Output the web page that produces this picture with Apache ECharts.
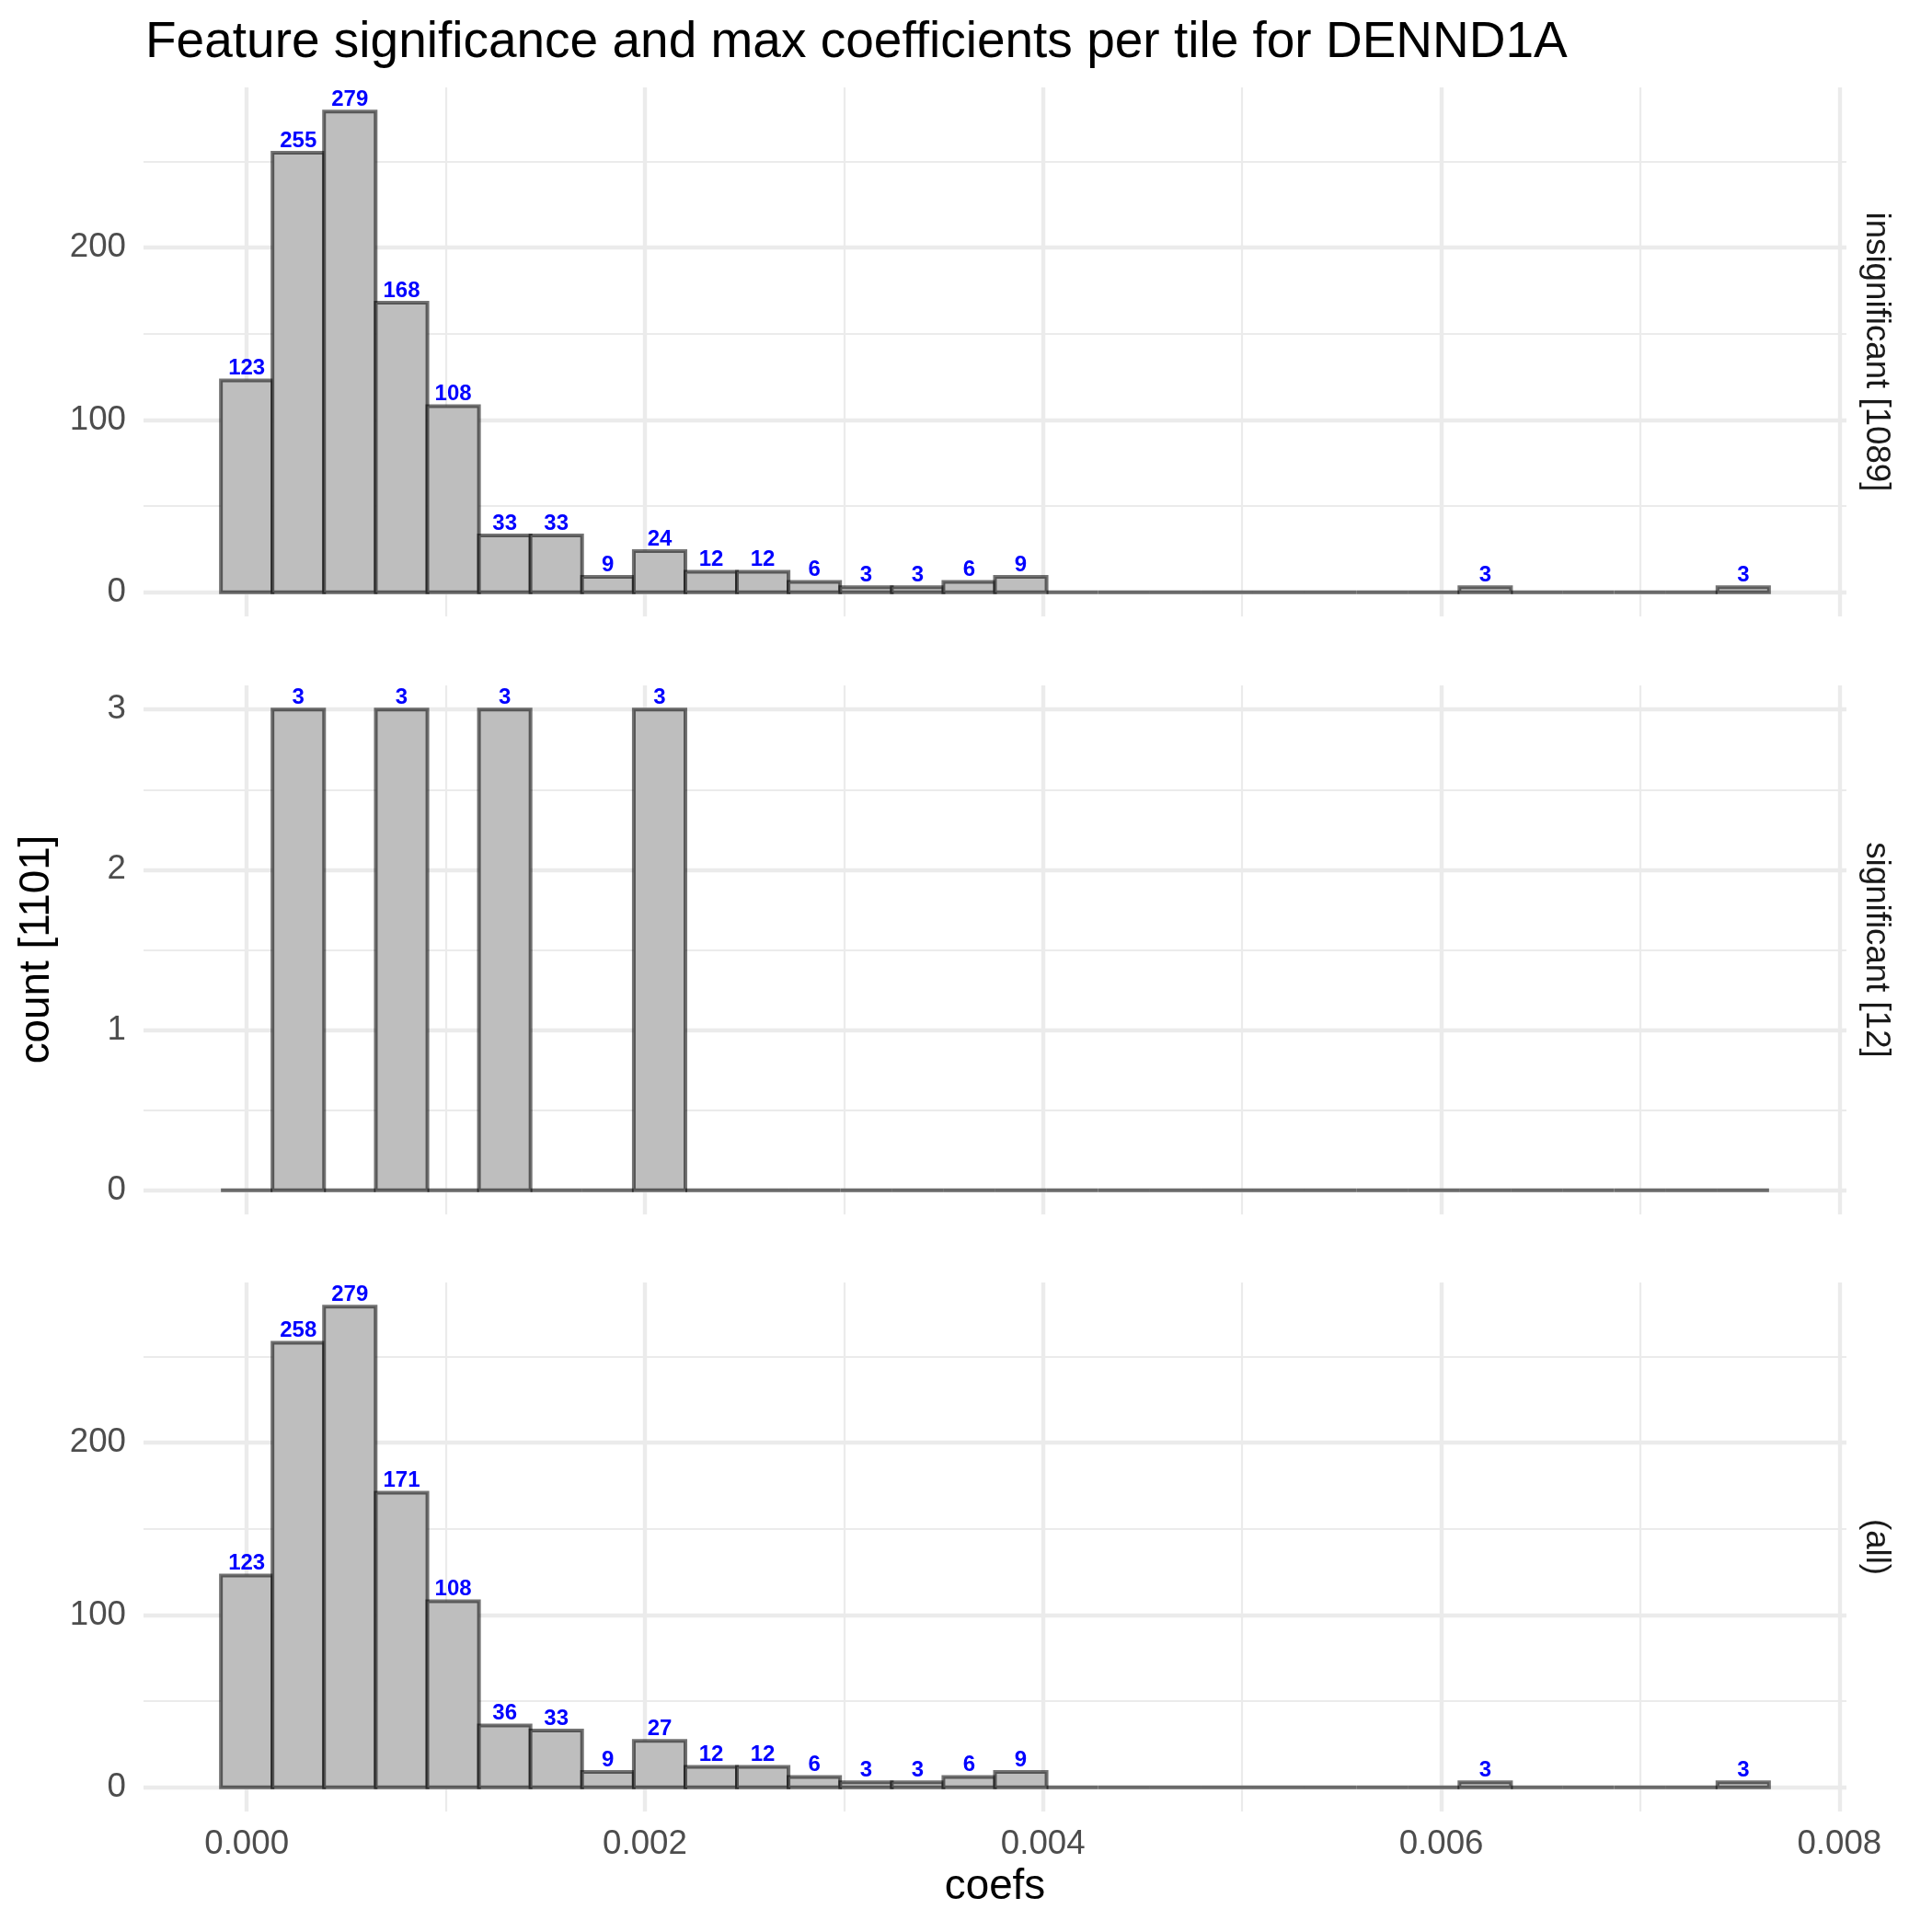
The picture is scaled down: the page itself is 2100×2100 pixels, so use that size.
<!DOCTYPE html>
<html>
<head>
<meta charset="utf-8">
<script src="https://cdn.jsdelivr.net/npm/echarts@6/dist/echarts.min.js"></script>
<style>
html,body{margin:0;padding:0;background:#fff;}
#chart{width:2100px;height:2100px;}
</style>
</head>
<body>
<div id="chart"></div>
<script>
// ---- data ----
const binCenters = [0.000000, 0.000259, 0.000518, 0.000778, 0.001037, 0.001296, 0.001555, 0.001814, 0.002074, 0.002333,
                    0.002592, 0.002851, 0.003111, 0.003370, 0.003629, 0.003888, 0.004147, 0.004407, 0.004666, 0.004925,
                    0.005184, 0.005443, 0.005703, 0.005962, 0.006221, 0.006480, 0.006739, 0.006999, 0.007258, 0.007517];
const binWidth = 0.0002592;
const insignificantCounts = [123, 255, 279, 168, 108, 33, 33, 9, 24, 12, 12, 6, 3, 3, 6, 9, 0, 0, 0, 0, 0, 0, 0, 0, 3, 0, 0, 0, 0, 3];
const significantCounts   = [0, 3, 0, 3, 0, 3, 0, 0, 3, 0, 0, 0, 0, 0, 0, 0, 0, 0, 0, 0, 0, 0, 0, 0, 0, 0, 0, 0, 0, 0];
const allCounts           = [123, 258, 279, 171, 108, 36, 33, 9, 27, 12, 12, 6, 3, 3, 6, 9, 0, 0, 0, 0, 0, 0, 0, 0, 3, 0, 0, 0, 0, 3];
const panelNames = ['insignificant [1089]', 'significant [12]', '(all)'];
const xMajorTicks = [0, 0.002, 0.004, 0.006, 0.008];
const xMinorTicks = [0.001, 0.003, 0.005, 0.007];
const yMajorTicksBig = [0, 100, 200];
const yMinorTicksBig = [50, 150, 250];
const yMajorTicksSmall = [0, 1, 2, 3];
const yMinorTicksSmall = [0.5, 1.5, 2.5];
const titleText = 'Feature significance and max coefficients per tile for DENND1A';
const xTitle = 'coefs';
const yTitle = 'count [1101]';

// ---- layout ----
const FONT = '"Liberation Sans", Arial, Helvetica, sans-serif';
const gridLeft = 156, gridWidth = 1851, panelH = 575;
const tops = [95, 745, 1394];
const xMin = -0.0005184, xMax = 0.0080354;
const yRanges = [[-13.95, 292.95], [-0.15, 3.15], [-13.95, 292.95]];
const countsList = [insignificantCounts, significantCounts, allCounts];
const majorY = [yMajorTicksBig, yMajorTicksSmall, yMajorTicksBig];
const minorY = [yMinorTicksBig, yMinorTicksSmall, yMinorTicksBig];

const chart = echarts.init(document.getElementById('chart'), null, {renderer: 'canvas'});

const grids = [], xAxes = [], yAxes = [], series = [], graphics = [];
for (let p = 0; p < 3; p++) {
  grids.push({left: gridLeft, top: tops[p], width: gridWidth, height: panelH, containLabel: false});
  xAxes.push({
    type: 'value', gridIndex: p, min: xMin, max: xMax,
    axisLine: {show: false}, axisTick: {show: false}, splitLine: {show: false},
    axisLabel: {
      show: p === 2, customValues: xMajorTicks, margin: 17,
      formatter: v => v.toFixed(3),
      fontSize: 36.7, color: '#4d4d4d', fontFamily: FONT
    }
  });
  yAxes.push({
    type: 'value', gridIndex: p, min: yRanges[p][0], max: yRanges[p][1],
    axisLine: {show: false}, axisTick: {show: false}, splitLine: {show: false},
    axisLabel: {
      show: true, customValues: majorY[p], margin: 19,
      fontSize: 36.7, color: '#4d4d4d', fontFamily: FONT
    }
  });
  const ml = [];
  minorY[p].forEach(v => ml.push({yAxis: v, lineStyle: {color: '#ebebeb', width: 2.2, type: 'solid'}}));
  xMinorTicks.forEach(v => ml.push({xAxis: v, lineStyle: {color: '#ebebeb', width: 2.2, type: 'solid'}}));
  majorY[p].forEach(v => ml.push({yAxis: v, lineStyle: {color: '#ebebeb', width: 4.4, type: 'solid'}}));
  xMajorTicks.forEach(v => ml.push({xAxis: v, lineStyle: {color: '#ebebeb', width: 4.4, type: 'solid'}}));
  series.push({
    type: 'line', xAxisIndex: p, yAxisIndex: p, data: [], silent: true, z: 1,
    markLine: {silent: true, symbol: ['none', 'none'], z: 1, precision: 10, animation: false, label: {show: false},
               emphasis: {disabled: true}, data: ml}
  });
  series.push({
    type: 'custom', xAxisIndex: p, yAxisIndex: p, z: 3, silent: true, animation: false,
    data: binCenters.map((c, i) => [c, countsList[p][i]]),
    renderItem: function (params, api) {
      const c = api.value(0), v = api.value(1);
      const p0 = api.coord([c - binWidth / 2, v]);
      const p1 = api.coord([c + binWidth / 2, 0]);
      const children = [{
        type: 'rect',
        shape: {x: p0[0], y: p0[1], width: p1[0] - p0[0], height: p1[1] - p0[1]},
        style: {fill: '#bebebe', stroke: 'rgba(0,0,0,0.55)', lineWidth: 4}
      }];
      if (v > 0) {
        children.push({
          type: 'text', z2: 10,
          style: {text: String(v), x: (p0[0] + p1[0]) / 2, y: p0[1] - 1, align: 'center', verticalAlign: 'bottom',
                  fill: '#0000ff', font: 'bold 24px ' + FONT}
        });
      }
      return {type: 'group', children: children};
    }
  });
  graphics.push({
    type: 'text', x: 2039, y: tops[p] + panelH / 2, rotation: -Math.PI / 2,
    style: {text: panelNames[p], fill: '#1a1a1a', font: '36.7px ' + FONT, align: 'center', verticalAlign: 'middle'}
  });
}
graphics.push({
  type: 'text', x: 40, y: (tops[0] + tops[2] + panelH) / 2, rotation: Math.PI / 2,
  style: {text: yTitle, fill: '#000', font: '45.8px ' + FONT, align: 'center', verticalAlign: 'middle'}
});
graphics.push({
  type: 'text', x: gridLeft + gridWidth / 2, y: 2051,
  style: {text: xTitle, fill: '#000', font: '45.8px ' + FONT, align: 'center', verticalAlign: 'middle'}
});

chart.setOption({
  backgroundColor: '#ffffff',
  animation: false,
  title: {text: titleText, left: 153, top: 14,
          textStyle: {fontSize: 55, fontWeight: 'normal', color: '#000', fontFamily: FONT}},
  grid: grids, xAxis: xAxes, yAxis: yAxes, series: series,
  graphic: graphics
});
</script>
</body>
</html>
